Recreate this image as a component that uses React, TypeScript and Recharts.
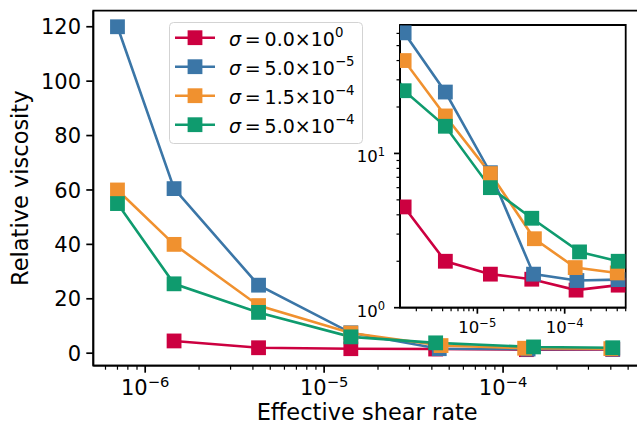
import { LineChart, Line, XAxis, YAxis, CartesianGrid, Legend, ReferenceArea } from 'recharts';

const FONT = '"DejaVu Sans", sans-serif';

// effective shear rate / relative viscosity, one pair of arrays per sigma
const redX = [1.45e-6, 4.3e-6, 1.41e-5, 4.2e-5, 1.35e-4, 4.1e-4];
const redY = [4.5, 2.0, 1.65, 1.53, 1.3, 1.4];
const blueX = [7.0e-7, 1.45e-6, 4.3e-6, 1.41e-5, 4.4e-5, 1.38e-4, 4.1e-4];
const blueY = [120, 60.5, 25, 7.5, 1.65, 1.5, 1.52];
const orangeX = [7.0e-7, 1.45e-6, 4.3e-6, 1.41e-5, 4.5e-5, 1.32e-4, 4.0e-4];
const orangeY = [60, 40, 17.5, 7.4, 2.8, 1.82, 1.68];
const greenX = [7.0e-7, 1.45e-6, 4.3e-6, 1.41e-5, 4.2e-5, 1.48e-4, 4.1e-4];
const greenY = [55, 25.5, 15, 6.0, 3.8, 2.3, 2.0];

const sigmaMantissa = ['0.0', '5.0', '1.5', '5.0'];
const sigmaExponent = ['0', '−5', '−4', '−4'];
const colors = ['#cc0040', '#3b76a7', '#f0912f', '#0f9b6e'];

const mainYTicks = [0, 20, 40, 60, 80, 100, 120];
const mainXMajor = [1e-6, 1e-5, 1e-4];
const mainXExp = ['−6', '−5', '−4'];
const insetXMajor = [1e-5, 1e-4];
const insetXExp = ['−5', '−4'];
const insetYMajor = [1, 10];
const insetYExp = ['0', '1'];

const MAIN_X_DOMAIN: [number, number] = [10 ** -6.29, 10 ** -3.218];
const MAIN_Y_DOMAIN: [number, number] = [-4.6, 125.9];
const INSET_X_DOMAIN: [number, number] = [1.3e-6, 5e-4];
const INSET_Y_DOMAIN: [number, number] = [1, 68];

const pairs = (xs: number[], ys: number[]) => xs.map((x, i) => ({ x, y: ys[i] }));
const series = [
  { name: 's0', data: pairs(redX, redY) },
  { name: 's1', data: pairs(blueX, blueY) },
  { name: 's2', data: pairs(orangeX, orangeY) },
  { name: 's3', data: pairs(greenX, greenY) },
];

// minor log ticks inside a domain
const minorTicks = (lo: number, hi: number) => {
  const out: number[] = [];
  for (let e = Math.floor(Math.log10(lo)); e <= Math.ceil(Math.log10(hi)); e++) {
    for (let m = 1; m <= 9; m++) {
      const v = m * 10 ** e;
      if (v >= lo && v <= hi) out.push(v);
    }
  }
  return out;
};

const majorIndex = (majors: number[], v: number) =>
  majors.findIndex((m) => Math.abs(v / m - 1) < 1e-6);

const makeXTick =
  (majors: number[], exps: string[], fs: number, big: number, small: number, off: number) =>
  (props: any) => {
    const { x, y, payload } = props;
    const i = majorIndex(majors, payload.value);
    const major = i >= 0;
    return (
      <g>
        <line x1={x} x2={x} y1={y} y2={y + (major ? big : small)} stroke="#000" strokeWidth={major ? 1.7 : 1.2} />
        {major && (
          <text x={x} y={y + off} textAnchor="middle" fontSize={fs} fontFamily={FONT} fill="#000">
            10
            <tspan dy={-0.4 * fs} fontSize={fs * 0.7}>
              {exps[i]}
            </tspan>
          </text>
        )}
      </g>
    );
  };

const MainYTick = (props: any) => {
  const { x, y, payload } = props;
  return (
    <g>
      <line x1={x} x2={x - 7} y1={y} y2={y} stroke="#000" strokeWidth={1.7} />
      <text x={x - 12.3} y={y + 7.6} textAnchor="end" fontSize={21} fontFamily={FONT} fill="#000">
        {payload.value}
      </text>
    </g>
  );
};

const InsetYTick = (props: any) => {
  const { x, y, payload } = props;
  const i = majorIndex(insetYMajor, payload.value);
  const major = i >= 0;
  return (
    <g>
      <line x1={x} x2={x - (major ? 6 : 3.5)} y1={y} y2={y} stroke="#000" strokeWidth={major ? 1.7 : 1.2} />
      {major && (
        <text x={x - 15} y={y + 8.8} textAnchor="end" fontSize={16.5} fontFamily={FONT} fill="#000">
          10
          <tspan dy={-6.6} fontSize={11.5}>
            {insetYExp[i]}
          </tspan>
        </text>
      )}
    </g>
  );
};

const squareDot = (color: string) => (p: any) =>
  <rect key={`d-${p.index}`} x={p.cx - 7.4} y={p.cy - 7.4} width={14.8} height={14.8} fill={color} />;

const LegendBox = () => (
  <svg width={195} height={122} style={{ display: 'block' }}>
    <rect x={0.5} y={0.5} width={193} height={121} rx={4} fill="#fff" fillOpacity={0.8} stroke="#d3d3d3" />
    {colors.map((c, i) => {
      const cy = 15.7 + i * 29;
      return (
        <g key={c}>
          <line x1={6} x2={46} y1={cy} y2={cy} stroke={c} strokeWidth={2.6} />
          <rect x={26 - 7.4} y={cy - 7.4} width={14.8} height={14.8} fill={c} />
          <text x={60} y={cy + 8} fontSize={19} fontFamily={FONT} fill="#000">
            <tspan fontStyle="italic">σ</tspan>
            {'\u2009=\u2009'}
            {sigmaMantissa[i]}×10
            <tspan dy={-8.5} fontSize={13.3}>
              {sigmaExponent[i]}
            </tspan>
          </text>
        </g>
      );
    })}
  </svg>
);

const spine = { stroke: '#000', strokeWidth: 1.8 };

const renderLines = () =>
  series.map((s, i) => (
    <Line
      key={s.name}
      data={s.data}
      dataKey="y"
      name={s.name}
      stroke={colors[i]}
      strokeWidth={2.6}
      dot={squareDot(colors[i])}
      activeDot={false}
      isAnimationActive={false}
    />
  ));

export default function App() {
  const mainXTicks = minorTicks(MAIN_X_DOMAIN[0], MAIN_X_DOMAIN[1]);
  const insetXTicks = minorTicks(INSET_X_DOMAIN[0], INSET_X_DOMAIN[1]);
  const insetYTicks = minorTicks(INSET_Y_DOMAIN[0], INSET_Y_DOMAIN[1]);

  return (
    <div style={{ position: 'absolute', left: 0, top: 0, width: 637, height: 428, overflow: 'hidden', background: '#fff' }}>
      <div style={{ position: 'absolute', left: 0, top: 0 }}>
        <LineChart width={660} height={428} margin={{ top: 10.7, right: 17, bottom: 0, left: 0 }}>
          <XAxis
            dataKey="x"
            type="number"
            scale="log"
            domain={MAIN_X_DOMAIN}
            allowDataOverflow
            ticks={mainXTicks}
            interval={0}
            tick={makeXTick(mainXMajor, mainXExp, 21, 7, 4, 29.3)}
            tickLine={false}
            tickSize={0}
            tickMargin={0}
            height={62.3}
            axisLine={spine}
            label={{
              content: ({ viewBox }: any) => (
                <text x={viewBox.x + viewBox.width / 2 - 1} y={viewBox.y + 54.3} textAnchor="middle" fontSize={22.5} fontFamily={FONT} fill="#000">
                  Effective shear rate
                </text>
              ),
            }}
          />
          <YAxis
            type="number"
            domain={MAIN_Y_DOMAIN}
            allowDataOverflow
            ticks={mainYTicks}
            interval={0}
            tick={MainYTick}
            tickLine={false}
            tickSize={0}
            tickMargin={0}
            width={93.3}
            axisLine={spine}
            label={{
              content: ({ viewBox }: any) => {
                const cy = viewBox.y + viewBox.height / 2;
                return (
                  <text x={28} y={cy} transform={`rotate(-90, 28, ${cy})`} textAnchor="middle" fontSize={22.5} fontFamily={FONT} fill="#000">
                    Relative viscosity
                  </text>
                );
              },
            }}
          />
          {renderLines()}
          <ReferenceArea
            x1={MAIN_X_DOMAIN[0]}
            x2={MAIN_X_DOMAIN[1]}
            y1={MAIN_Y_DOMAIN[0]}
            y2={MAIN_Y_DOMAIN[1]}
            fill="none"
            fillOpacity={0}
            stroke="#000"
            strokeWidth={1.8}
            ifOverflow="visible"
          />
          <Legend
            layout="vertical"
            verticalAlign="middle"
            align="center"
            content={() => <LegendBox />}
            wrapperStyle={{ position: 'absolute', left: 169, top: 21.7, width: 195, height: 122 }}
          />
        </LineChart>
      </div>

      <div style={{ position: 'absolute', left: 340, top: 15 }}>
        <LineChart width={300} height={335} margin={{ top: 10, right: 14.3, bottom: 0, left: 0 }}>
          <CartesianGrid fill="#fff" horizontal={false} vertical={false} />
          <XAxis
            dataKey="x"
            type="number"
            scale="log"
            domain={INSET_X_DOMAIN}
            allowDataOverflow
            ticks={insetXTicks}
            interval={0}
            tick={makeXTick(insetXMajor, insetXExp, 16.5, 6, 3.5, 25.6)}
            tickLine={false}
            tickSize={0}
            tickMargin={0}
            height={42.3}
            axisLine={spine}
          />
          <YAxis
            type="number"
            scale="log"
            domain={INSET_Y_DOMAIN}
            allowDataOverflow
            ticks={insetYTicks}
            interval={0}
            tick={InsetYTick}
            tickLine={false}
            tickSize={0}
            tickMargin={0}
            width={60}
            axisLine={spine}
          />
          {renderLines()}
          <ReferenceArea
            x1={INSET_X_DOMAIN[0]}
            x2={INSET_X_DOMAIN[1]}
            y1={INSET_Y_DOMAIN[0]}
            y2={INSET_Y_DOMAIN[1]}
            fill="none"
            fillOpacity={0}
            stroke="#000"
            strokeWidth={1.8}
            ifOverflow="visible"
          />
        </LineChart>
      </div>
    </div>
  );
}
